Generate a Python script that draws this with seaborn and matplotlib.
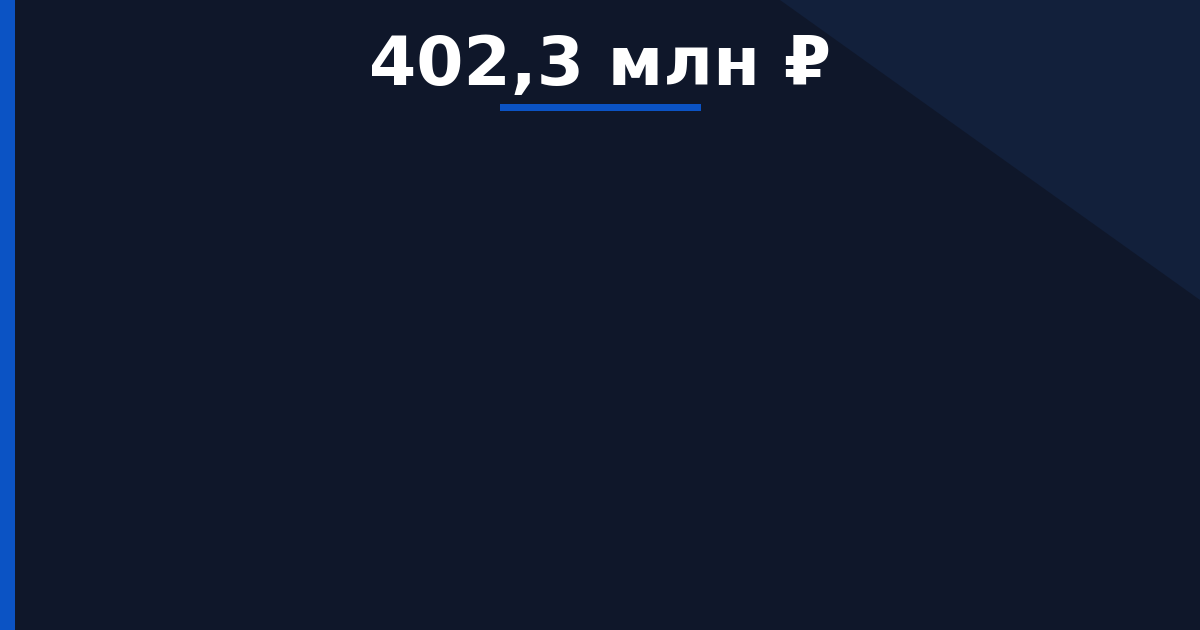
import matplotlib
matplotlib.use("Agg")
import matplotlib.pyplot as plt
import seaborn as sns
from matplotlib.patches import Polygon, Rectangle

# Value shown on the card
value = 402.3
unit = "млн ₽"

label = f"{value:.1f}".replace(".", ",") + " " + unit

bg = "#0f172a"
corner = "#12203b"
accent = "#0b53c4"

sns.set_theme(style="white")
plt.rcParams["font.family"] = ["DejaVu Sans"]

fig = plt.figure(figsize=(12, 6.3), dpi=100, facecolor=bg)
ax = fig.add_axes([0, 0, 1, 1])
ax.set_xlim(0, 1200)
ax.set_ylim(630, 0)
ax.set_facecolor(bg)
ax.axis("off")

# decorative corner and left stripe
ax.add_patch(Polygon([(780, 0), (1200, 0), (1200, 300)], closed=True, color=corner, lw=0))
ax.add_patch(Rectangle((0, 0), 15, 630, color=accent, lw=0))

# headline value and underline
ax.text(600, 85, label, color="white", fontsize=49, fontweight="bold",
        ha="center", va="baseline")
ax.add_patch(Rectangle((500, 104), 201, 7, color=accent, lw=0))

fig.savefig("out.png", dpi=100, facecolor=bg)
